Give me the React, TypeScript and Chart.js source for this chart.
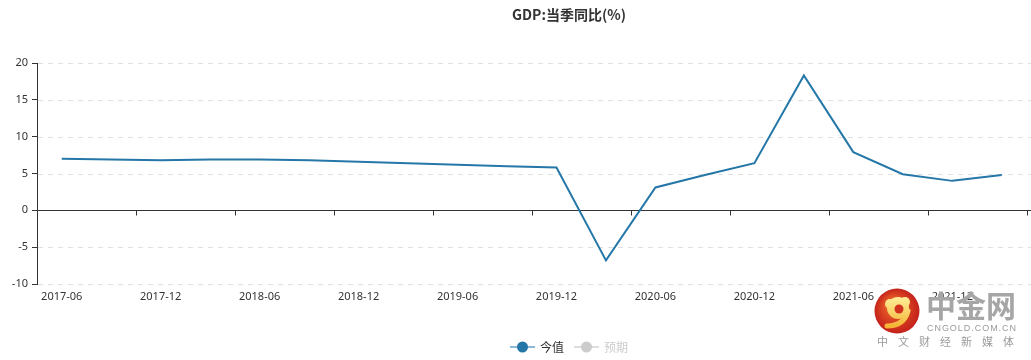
import React, { useEffect, useRef } from 'react';
import { Chart, registerables } from 'chart.js';

Chart.register(...registerables);

const TITLE = 'GDP:当季同比(%)';
const categories = [
  '2017-06', '2017-09', '2017-12', '2018-03', '2018-06', '2018-09', '2018-12',
  '2019-03', '2019-06', '2019-09', '2019-12', '2020-03', '2020-06', '2020-09',
  '2020-12', '2021-03', '2021-06', '2021-09', '2021-12', '2022-03',
];
const actualValues = [
  7.0, 6.9, 6.8, 6.9, 6.9, 6.8, 6.6, 6.4, 6.2, 6.0, 5.8,
  -6.8, 3.1, 4.8, 6.4, 18.3, 7.9, 4.9, 4.0, 4.8,
];
const yTicks = [-10, -5, 0, 5, 10, 15, 20];
const seriesNames = ['今值', '预期'];
const watermarkTexts = ['中金网', 'CNGOLD.COM.CN', '中文财经新媒体'];

const LINE_COLOR = '#2577a8';
const TEXT_COLOR = '#333333';
const FONT = '"Noto Sans", "Noto Sans CJK SC", sans-serif';
const CJK_FONT = '"Noto Sans CJK SC", "Noto Sans", sans-serif';

function spreadText(ctx: CanvasRenderingContext2D, text: string, x0: number, x1: number, y: number) {
  const chars = Array.from(text);
  const widths = chars.map((c) => ctx.measureText(c).width);
  const total = widths.reduce((a, b) => a + b, 0);
  const gap = chars.length > 1 ? (x1 - x0 - total) / (chars.length - 1) : 0;
  let x = x0;
  chars.forEach((c, i) => {
    ctx.fillText(c, x, y);
    x += widths[i] + gap;
  });
}

const decorPlugin = {
  id: 'decor',
  beforeDatasetsDraw(chart: any) {
    const { ctx, chartArea, scales } = chart;
    const x = scales.x;
    const y = scales.y;
    ctx.save();
    ctx.strokeStyle = '#e0e0e0';
    ctx.lineWidth = 1;
    ctx.setLineDash([5, 5]);
    yTicks.forEach((v) => {
      if (v === 0) return;
      const py = Math.round(y.getPixelForValue(v)) + 0.5;
      ctx.beginPath();
      ctx.moveTo(chartArea.left + 1, py);
      ctx.lineTo(chart.width, py);
      ctx.stroke();
    });
    ctx.setLineDash([]);
    const zy = Math.round(y.getPixelForValue(0)) + 0.5;
    ctx.strokeStyle = '#333333';
    ctx.beginPath();
    ctx.moveTo(chartArea.left, zy);
    ctx.lineTo(chart.width, zy);
    ctx.stroke();
    const step = x.getPixelForValue(1) - x.getPixelForValue(0);
    for (let i = 2; i <= categories.length; i += 2) {
      const px = Math.round(x.getPixelForValue(i - 1) + step / 2) + 0.5;
      ctx.beginPath();
      ctx.moveTo(px, zy);
      ctx.lineTo(px, zy + 5);
      ctx.stroke();
    }
    ctx.restore();
  },
  afterDraw(chart: any) {
    const { ctx } = chart;
    ctx.save();
    ctx.fillStyle = TEXT_COLOR;
    ctx.font = `bold 14px ${CJK_FONT}`;
    ctx.textAlign = 'center';
    ctx.textBaseline = 'middle';
    ctx.fillText(TITLE, 569, 15);

    const ly = 347;
    const items = [
      { name: seriesNames[0], x: 510, line: '#8bb8d6', dot: LINE_COLOR, text: TEXT_COLOR },
      { name: seriesNames[1], x: 574, line: '#dddddd', dot: '#cccccc', text: '#cccccc' },
    ];
    items.forEach((it) => {
      ctx.strokeStyle = it.line;
      ctx.lineWidth = 2;
      ctx.beginPath();
      ctx.moveTo(it.x, ly);
      ctx.lineTo(it.x + 25, ly);
      ctx.stroke();
      ctx.fillStyle = it.dot;
      ctx.beginPath();
      ctx.arc(it.x + 12.5, ly, 5.5, 0, Math.PI * 2);
      ctx.fill();
      ctx.fillStyle = it.text;
      ctx.font = `12px ${CJK_FONT}`;
      ctx.textAlign = 'left';
      ctx.textBaseline = 'middle';
      ctx.fillText(it.name, it.x + 30, ly);
    });

    const cx = 897;
    const cy = 311;
    const r = 22.5;
    const g = ctx.createRadialGradient(cx - 6, cy - 8, 2, cx, cy, r);
    g.addColorStop(0, '#f0682a');
    g.addColorStop(1, '#c4221a');
    ctx.fillStyle = g;
    ctx.beginPath();
    ctx.arc(cx, cy, r, 0, Math.PI * 2);
    ctx.fill();
    const yg = ctx.createLinearGradient(cx, cy - 16, cx, cy + 18);
    yg.addColorStop(0, '#fff2a0');
    yg.addColorStop(1, '#f4b02e');
    ctx.fillStyle = yg;
    ctx.beginPath();
    ctx.arc(cx + 1, cy - 3, 11, 0, Math.PI * 2);
    ctx.fill();
    ctx.beginPath();
    ctx.arc(cx - 7, cy - 7, 5, 0, Math.PI * 2);
    ctx.fill();
    ctx.beginPath();
    ctx.arc(cx + 8, cy - 9, 5, 0, Math.PI * 2);
    ctx.fill();
    ctx.fillStyle = '#d0321e';
    ctx.beginPath();
    ctx.arc(cx + 2, cy - 2, 4.5, 0, Math.PI * 2);
    ctx.fill();
    ctx.strokeStyle = yg;
    ctx.lineWidth = 5;
    ctx.lineCap = 'round';
    ctx.beginPath();
    ctx.moveTo(cx + 11, cy);
    ctx.quadraticCurveTo(cx + 7, cy + 15, cx - 10, cy + 15);
    ctx.stroke();

    ctx.fillStyle = '#a6a6a6';
    ctx.textAlign = 'left';
    ctx.textBaseline = 'middle';
    ctx.font = `bold 30px ${CJK_FONT}`;
    spreadText(ctx, watermarkTexts[0], 926, 1016, 306);
    ctx.fillStyle = '#9a9a9a';
    ctx.font = `9px "Liberation Sans", sans-serif`;
    spreadText(ctx, watermarkTexts[1], 927, 1016, 329);
    ctx.font = `11px ${CJK_FONT}`;
    spreadText(ctx, watermarkTexts[2], 877, 1014, 342);
    ctx.restore();
  },
};

export default function App() {
  const canvasRef = useRef<HTMLCanvasElement | null>(null);

  useEffect(() => {
    const canvas = canvasRef.current;
    if (!canvas) return;
    const chart = new Chart(canvas, {
      type: 'line',
      data: {
        labels: categories,
        datasets: [
          {
            label: seriesNames[0],
            data: actualValues,
            borderColor: LINE_COLOR,
            backgroundColor: LINE_COLOR,
            borderWidth: 2,
            pointRadius: 0,
            pointHoverRadius: 0,
            tension: 0,
            fill: false,
          },
        ],
      },
      options: {
        responsive: false,
        animation: false,
        devicePixelRatio: 1,
        layout: { padding: { top: 63, right: 4.5, bottom: 0, left: 0 } },
        plugins: {
          legend: { display: false },
          title: { display: false },
          tooltip: { enabled: false },
        },
        scales: {
          x: {
            type: 'category',
            offset: true,
            grid: { display: false, drawTicks: false },
            border: { display: false },
            ticks: {
              autoSkip: false,
              maxRotation: 0,
              minRotation: 0,
              padding: 6,
              color: TEXT_COLOR,
              font: { family: FONT, size: 11 },
              callback: (_v: any, i: number) => (i % 2 === 0 ? categories[i] : ''),
            },
            afterFit: (s: any) => {
              s.height = 76;
            },
          },
          y: {
            min: -10,
            max: 20,
            ticks: {
              stepSize: 5,
              color: TEXT_COLOR,
              padding: 4,
              font: { family: FONT, size: 11 },
            },
            grid: {
              drawOnChartArea: false,
              drawTicks: true,
              tickLength: 5,
              tickColor: '#333333',
              color: '#333333',
            },
            border: { display: true, color: '#333333', width: 1 },
            afterFit: (s: any) => {
              s.width = 37;
            },
          },
        },
      } as any,
      plugins: [decorPlugin],
    });
    return () => chart.destroy();
  }, []);

  return (
    <div style={{ position: 'fixed', left: 0, top: 0, width: 1031, height: 360, background: '#fff' }}>
      <canvas ref={canvasRef} width={1031} height={360} style={{ display: 'block' }} />
    </div>
  );
}
